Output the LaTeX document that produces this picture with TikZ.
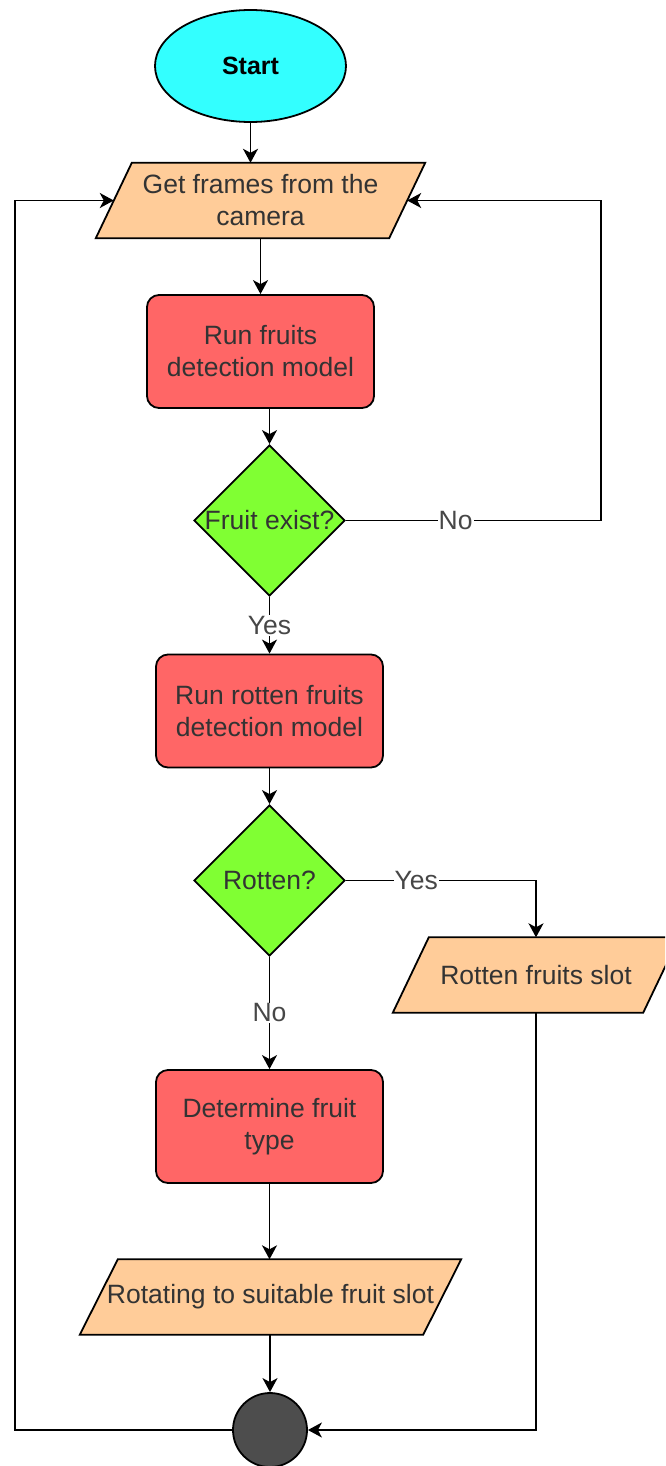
\documentclass[tikz,border=0pt]{standalone}
\usepackage{fontspec}
\setmainfont{Liberation Sans}
\usetikzlibrary{shapes.geometric,arrows.meta}
\pgfdeclarelayer{bg}
\pgfsetlayers{bg,main}
\definecolor{cstart}{HTML}{33FFFF}
\definecolor{cproc}{HTML}{FF6666}
\definecolor{cdec}{HTML}{80FF33}
\definecolor{cio}{HTML}{FFCC99}
\definecolor{cend}{HTML}{4D4D4D}
\definecolor{txt}{HTML}{333333}
\newcommand{\drawpara}[2]{%
  \begin{pgfonlayer}{bg}
  \begin{scope}
  \clip (0,0) rectangle (665,1466);
  \draw[iofill] ([xshift=#2]#1.north west) -- ([xshift=#2]#1.north east)
    -- ([xshift=-#2]#1.south east) -- ([xshift=-#2]#1.south west) -- cycle;
  \end{scope}
  \end{pgfonlayer}}
\begin{document}
\begin{tikzpicture}[x=1pt,y=-1pt,
  every node/.style={font=\fontsize{26.5}{32}\selectfont, text=txt},
  base/.style={draw=black, line width=1.8pt, inner sep=0pt, align=center},
  startnode/.style={base, ellipse, fill=cstart, minimum width=191pt, minimum height=112pt, text=black, font=\fontsize{25}{32}\selectfont\bfseries},
  proc/.style={base, rounded corners=12pt, fill=cproc, minimum width=227pt, minimum height=113pt},
  dec/.style={base, diamond, fill=cdec, minimum width=151pt, minimum height=151pt},
  io/.style={inner sep=0pt, align=center, minimum height=75pt},
  iofill/.style={draw=black, line width=1.8pt, fill=cio, line join=miter},
  endnode/.style={base, circle, fill=cend, minimum size=74pt},
  arr/.style={line width=1.8pt, -{Stealth[length=14pt,width=15pt,inset=4pt]}},
  lbl/.style={fill=white, inner sep=1pt, text=txt!90}
]
\useasboundingbox (0,0) rectangle (665,1466);
\clip (0,0) rectangle (665,1466);

\node[startnode] (start) at (250.5,66) {Start};
\node[io, minimum width=293pt] (p1) at (260.5,200.5) {Get frames from the\\camera};
\drawpara{p1}{18pt}
\node[proc] (b1) at (260.5,351.5) {Run fruits\\detection model};
\node[dec, label={center:Fruit exist?}] (d1) at (269.5,520.5) {};
\node[proc] (b2) at (269.5,711) {Run rotten fruits\\detection model};
\node[dec, label={center:Rotten?}] (d2) at (269.5,880.5) {};
\node[io, minimum width=250pt] (p2) at (536,975) {Rotten fruits slot};
\drawpara{p2}{18pt}
\node[proc] (b3) at (269.5,1126.5) {Determine fruit\\type};
\node[io, minimum width=343pt] (p3) at (270.5,1297) {Rotating to suitable fruit slot};
\drawpara{p3}{19pt}
\node[endnode] (end) at (270,1430) {};

\coordinate (cR) at (601,520.5);
\coordinate (cY) at (536,880.5);
\coordinate (cL) at (15,1430);

\draw[arr] (start.south) -- (start.south |- p1.north);
\draw[arr] (p1.south -| b1.north) -- (b1.north);
\draw[arr] (d1.north |- b1.south) -- (d1.north);
\draw[arr] (d1.south) -- node[lbl]{Yes} (b2.north);
\draw[arr] (d2.north |- b2.south) -- (d2.north);
\draw[arr] (d2.south) -- node[lbl]{No} (b3.north);
\draw[arr] (b3.south) -- (b3.south |- p3.north);
\draw[arr] (p3.south -| end.north) -- (end.north);
\draw[arr] (d1.east) -- node[lbl, pos=0.43]{No} (cR) |- (p1.east);
\draw[arr] (d2.east) -- node[lbl, pos=0.37]{Yes} (cY) -- (p2.north);
\draw[arr] (p2.south) |- (end.east);
\draw[arr] (end.west) -- (cL) |- (p1.west);
\end{tikzpicture}
\end{document}
